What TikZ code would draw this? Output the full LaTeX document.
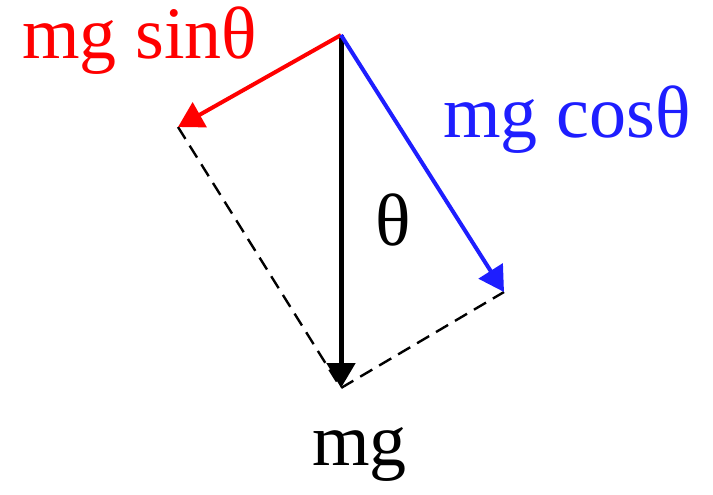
\documentclass[tikz,border=0pt]{standalone}
\usepackage{fontspec}
\setmainfont{Liberation Serif}
\usetikzlibrary{arrows.meta}
\definecolor{fblue}{RGB}{30,30,255}

\begin{document}
\begin{tikzpicture}[x=.5pt,y=-.5pt,
    force/.style={line width=2pt,-{Triangle[length=12.5pt,width=14pt]}},
    helper/.style={line width=1.2pt,dash pattern=on 7pt off 4pt},
    lbl/.style={anchor=base west,inner sep=0pt,font=\fontsize{37}{40}\selectfont}]
    \useasboundingbox (0,0) rectangle (713,494);
    \coordinate (O) at (341,35);
    \coordinate (W) at (341,388);
    \coordinate (S) at (178,127);
    \coordinate (C) at (504,292);
    % components
    \draw[helper] (S) -- (W) -- (C);
    \draw[force,line width=2.5pt] (O) -- (W);
    \draw[force,red] (O) -- (S);
    \draw[force,fblue] (O) -- (C);
    % labels
    \node[lbl,red] (sinlbl) at (22,58) {mg sinθ};
    \node[lbl,fblue] (coslbl) at (443,137) {mg cosθ};
    \node[lbl] (anglbl) at (375,245) {θ};
    \node[lbl] (mglbl) at (312,465) {mg};
\end{tikzpicture}
\end{document}
